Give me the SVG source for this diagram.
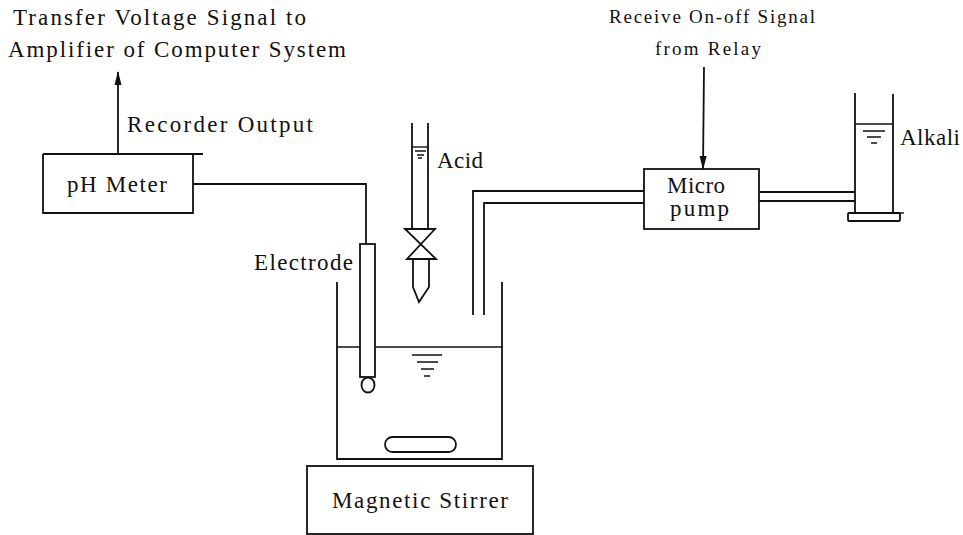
<svg xmlns="http://www.w3.org/2000/svg" width="963" height="535" viewBox="0 0 963 535">
<style>
text{font-family:"Liberation Serif",serif;fill:#111;font-size:23px}
.s{font-size:19px}
line,path,rect,ellipse{stroke:#111;stroke-width:1.8;fill:none}
.h{fill:#111;stroke:none}
.t{stroke-width:1.4}
</style>
<defs>
<marker id="a" markerUnits="userSpaceOnUse" markerWidth="14" markerHeight="8" refX="13" refY="3.5" orient="auto" viewBox="0 0 14 7"><path class="h" d="M0 0L14 3.5L0 7Z"/></marker>
</defs>
<rect width="963" height="535" style="fill:#fff;stroke:none"/>
<g id="connectors">
<line x1="118" y1="154" x2="118" y2="72" marker-end="url(#a)"/>
<path d="M193 184H366V244"/>
<line x1="704" y1="67" x2="703" y2="169" marker-end="url(#a)"/>
<path d="M473 315V191H644"/>
<path d="M484 315V203H644"/>
<line x1="759" y1="192" x2="855" y2="192"/>
<line x1="759" y1="201" x2="855" y2="201"/>
</g>
<g id="ph-meter">
<path d="M43 154H203M43 154V213H193V154"/>
<text x="67" y="192" textLength="100">pH Meter</text>
</g>
<g id="micro-pump">
<rect x="644" y="169" width="115" height="60"/>
<text x="667" y="193" textLength="58">Micro</text>
<text x="670" y="216" textLength="59">pump</text>
</g>
<g id="alkali">
<path d="M855 93V213M893 94V213"/>
<line x1="855" y1="124" x2="893" y2="124" class="t"/>
<path d="M863 131H885M867 137H881M871 143H877" class="t"/>
<rect x="848" y="213" width="52" height="8" rx="1"/>
<line x1="893" y1="213" x2="904" y2="213" class="t"/>
<text x="900" y="145" textLength="60">Alkali</text>
</g>
<g id="acid">
<path d="M412 123V229M428 123V229"/>
<line x1="412" y1="147" x2="428" y2="147" class="t"/>
<path d="M415 151H426M417 155H424M418 158H422" class="t"/>
<path d="M405 229H435L407 259H436Z"/>
<path d="M413 259V287L419 302L429 287V259"/>
<text x="437" y="168" textLength="46">Acid</text>
</g>
<g id="electrode">
<rect x="360" y="244" width="15" height="133"/>
<ellipse cx="368" cy="385" rx="6.5" ry="7.5"/>
<text x="254" y="270" textLength="99">Electrode</text>
</g>
<g id="beaker">
<path d="M337 282V459H502V282"/>
<path d="M337 347H360M375 347H503" class="t"/>
<path d="M412 355H442M417 362H438M421 369H434M424 376H430" class="t"/>
<rect x="385" y="437" width="71" height="15" rx="7.5"/>
</g>
<g id="magnetic-stirrer">
<rect x="307" y="466" width="226" height="68"/>
<text x="332" y="508" textLength="176">Magnetic Stirrer</text>
</g>
<g id="labels">
<text x="13" y="25" textLength="293">Transfer Voltage Signal to</text>
<text x="8" y="57" textLength="338">Amplifier of Computer System</text>
<text x="127" y="132" textLength="186">Recorder Output</text>
<text x="609" y="23" class="s" textLength="206">Receive On-off Signal</text>
<text x="655" y="55" class="s" textLength="106">from Relay</text>
</g>
</svg>
